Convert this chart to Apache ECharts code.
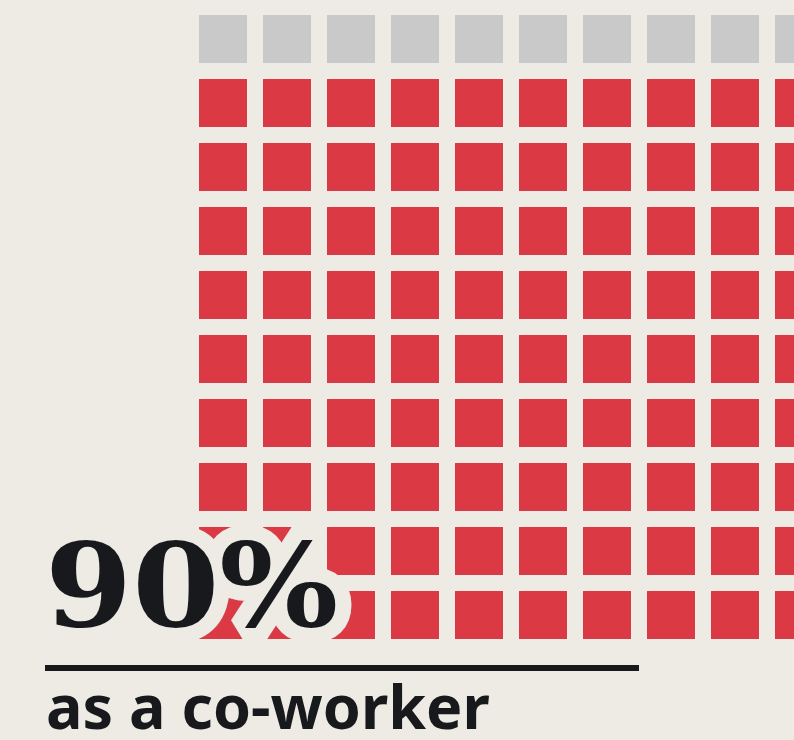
<!DOCTYPE html>
<html>
<head>
<meta charset="utf-8">
<script src="https://cdn.jsdelivr.net/npm/echarts@6/dist/echarts.min.js"></script>
<style>
  html, body { margin: 0; padding: 0; background: #eeeae4; }
  #chart { width: 794px; height: 740px; }
</style>
</head>
<body>
<div id="chart"></div>
<script>
// waffle data
const sharePercent = 90
const totalCells = 100
const gridCols = 10
const headline = '90%'
const caption = 'as a co-worker'

const bg = '#eeeae4'
const dark = '#17191c'

// build the cells: empty ones first (top row), filled ones after
let restCells = []
let shareCells = []
for (let i = 0; i < totalCells; i++) {
  let col = i % gridCols
  let row = Math.floor(i / gridCols)
  if (i < totalCells - sharePercent) {
    restCells.push([col, row])
  } else {
    shareCells.push([col, row])
  }
}

const chart = echarts.init(document.getElementById('chart'))

const option = {
  backgroundColor: bg,
  animation: false,
  // grid runs past the right edge on purpose, last column is cut off
  grid: { left: 191, top: 7, width: 640, height: 640, outerBoundsMode: 'none' },
  xAxis: {
    type: 'value', min: -0.5, max: 9.5,
    show: false
  },
  yAxis: {
    type: 'value', min: -0.5, max: 9.5, inverse: true,
    show: false
  },
  series: [
    {
      name: 'rest',
      type: 'scatter',
      symbol: 'rect',
      symbolSize: 48,
      clip: false,
      itemStyle: { color: '#c9c9c9', opacity: 1 },
      data: restCells,
      silent: true
    },
    {
      name: 'share',
      type: 'scatter',
      symbol: 'rect',
      symbolSize: 48,
      clip: false,
      itemStyle: { color: '#db3943', opacity: 1 },
      data: shareCells,
      silent: true
    }
  ],
  graphic: [
    // halo behind the big number
    {
      type: 'text', x: 45, y: 596, scaleX: 1.08, z: 100,
      style: {
        text: headline,
        font: 'bold 116px "DejaVu Serif"',
        fill: bg, stroke: bg, lineWidth: 30, lineJoin: 'round',
        verticalAlign: 'middle'
      }
    },
    {
      type: 'text', x: 45, y: 596, scaleX: 1.08, z: 101,
      style: {
        text: headline,
        font: 'bold 116px "DejaVu Serif"',
        fill: dark,
        verticalAlign: 'middle'
      }
    },
    {
      type: 'line', z: 101,
      shape: { x1: 45, y1: 668, x2: 639, y2: 668 },
      style: { stroke: dark, lineWidth: 6 }
    },
    {
      type: 'text', x: 46, y: 712, z: 101,
      style: {
        text: caption,
        font: 'bold 61px "Noto Sans"',
        fill: dark,
        verticalAlign: 'middle'
      }
    }
  ]
}

chart.setOption(option)
</script>
</body>
</html>
